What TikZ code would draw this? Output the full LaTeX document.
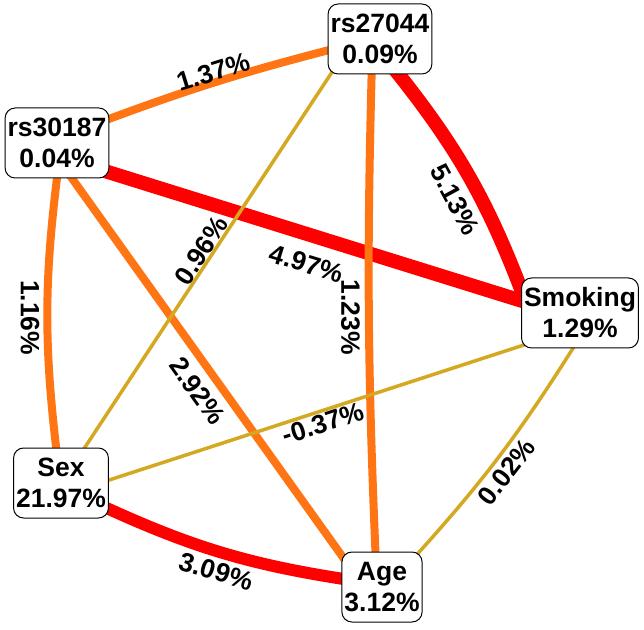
\documentclass[tikz,border=0pt]{standalone}
\usepackage{fontspec}
\setmainfont{Liberation Sans}
\pgfdeclarelayer{fg}
\pgfsetlayers{main,fg}
\definecolor{ered}{RGB}{255,0,0}
\definecolor{eorange}{RGB}{255,117,20}
\definecolor{egold}{RGB}{212,168,32}
\begin{document}
\begin{tikzpicture}[x=1pt,y=1pt,
  every node/.style={font=\fontsize{26.5}{31}\selectfont\bfseries},
  vbox/.style={draw=black, line width=1pt, rounded corners=10pt, fill=white, align=center, inner xsep=2.5pt, inner ysep=0pt, minimum height=70pt},
  thickred/.style={draw=ered, line width=14pt},
  midred/.style={draw=ered, line width=12pt},
  orangeedge/.style={draw=eorange, line width=8pt},
  goldedge/.style={draw=egold, line width=3.5pt},
  lab/.style={inner sep=0pt, sloped, text=black},
  vlab/.style={rotate=-90, anchor=north, text=black}
]
\fill[white] (0,0) rectangle (644,629);
\useasboundingbox (0,0) rectangle (644,629);
\begin{pgfonlayer}{fg}
\node[vbox] (rs27044) at (380,590) {rs27044\\0.09\%};
\node[vbox] (rs30187) at (57,486) {rs30187\\0.04\%};
\node[vbox] (smoking) at (580,316) {Smoking\\1.29\%};
\node[vbox] (sex) at (61,146) {Sex\\21.97\%};
\node[vbox] (age) at (382,42) {Age\\3.12\%};
\end{pgfonlayer}
\draw[thickred] ([shift={(12,-27)}]rs27044.center) to[bend left=9] node[lab, below=7pt, pos=0.56] {5.13\%} ([shift={(-56,16)}]smoking.center);
\draw[thickred] ([shift={(38,-25)}]rs30187.center) -- node[lab, below=12pt, pos=0.5] {4.97\%} ([shift={(-45,8)}]smoking.center);
\draw[midred] ([shift={(39,-22)}]sex.center) to[bend right=8] node[lab, below=4pt, pos=0.5] {3.09\%} ([shift={(-32,7)}]age.center);
\draw[orangeedge] ([shift={(41,20)}]rs30187.center) to[bend left=3] node[lab, above=-3pt, pos=0.5] {1.37\%} ([shift={(-43,-9)}]rs27044.center);
\draw[orangeedge] ([shift={(-8,-21)}]rs27044.center) to[bend right=2] node[vlab, inner sep=5pt, pos=0.51] {1.23\%} ([shift={(-6,22)}]age.center);
\draw[orangeedge] ([shift={(9,-27)}]rs30187.center) -- node[lab, below=8pt, pos=0.52] {2.92\%} ([shift={(-30,17)}]age.center);
\draw[orangeedge] ([shift={(1,-27)}]rs30187.center) to[bend right=7] node[vlab, inner sep=4pt, pos=0.52] {1.16\%} ([shift={(-4,28)}]sex.center);
\draw[goldedge] ([shift={(-40,-21)}]rs27044.center) -- node[lab, above=0pt, pos=0.48] {0.96\%} ([shift={(9,13)}]sex.center);
\draw[goldedge] ([shift={(-50,-30)}]smoking.center) -- node[lab, below=1pt, pos=0.49] {-0.37\%} ([shift={(39,0)}]sex.center);
\draw[goldedge] ([shift={(-5,-32)}]smoking.center) to[bend left=5] node[lab, below=4pt, pos=0.53] {0.02\%} ([shift={(30,27)}]age.center);
\end{tikzpicture}
\end{document}
